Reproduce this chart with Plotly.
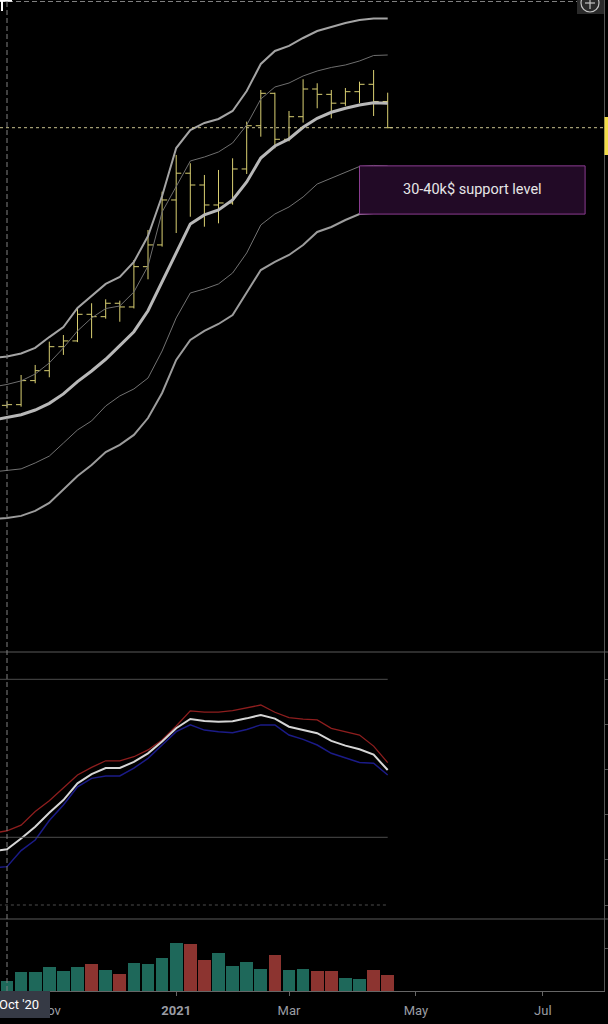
import math
import plotly.graph_objects as go

# ---------------- data (weekly bars, index 0 = week of 12 Oct 2020) ----------------
bar_idx = list(range(28))
opens = [11380, 11420, 12970, 13670, 15520, 16000, 18420, 18190, 19530, 19150,
         23700, 26590, 33730, 38860, 36510, 32850, 33200, 39740, 49960, 59310,
         46500, 52400, 60670, 58980, 56290, 59820, 62200, 56800]
highs = [11660, 13360, 14090, 15940, 16510, 19020, 19530, 19940, 19800, 24550,
         28780, 35240, 42800, 40960, 38500, 39530, 42050, 51050, 60360, 59500,
         54010, 63880, 62540, 60360, 61000, 63070, 67080, 59500]
lows = [11200, 11300, 12790, 13200, 14860, 15900, 16230, 18000, 17710, 19000,
        22170, 26350, 28320, 30870, 29280, 29810, 32900, 38700, 47140, 44350,
        46000, 50800, 54790, 51960, 55500, 56300, 52600, 49280]
closes = [11420, 12970, 13670, 15520, 16000, 18420, 18190, 19530, 19150, 23700,
          26590, 33730, 38860, 36510, 32850, 33200, 39740, 49960, 59310, 46500,
          52400, 60670, 58980, 56290, 59820, 62200, 56800, 49440]

# band / indicator series include the week before the first visible bar
band_idx = list(range(-1, 28))
band_upper_outer = [14620, 14740, 14970, 15420, 16330, 17220, 19050, 20290, 21630, 22440,
                    24300, 27880, 34450, 44400, 48840, 50690, 51780, 54010, 60030, 69260,
                    74200, 76190, 79470, 82470, 84230, 86030, 87410, 88100, 88100]
band_upper_inner = [12540, 12710, 12950, 13430, 14240, 15420, 16870, 18070, 18990, 19250,
                    20730, 23780, 31650, 36320, 41460, 42340, 43480, 45600, 50150, 57540,
                    61320, 62630, 65000, 66740, 68000, 68900, 70370, 72440, 72630]
band_middle = [10530, 10660, 10830, 11100, 11500, 12090, 12900, 13650, 14520, 15610,
               16800, 18770, 21850, 25660, 29710, 31160, 31990, 33730, 37100, 42120,
               44870, 46570, 49550, 51960, 53640, 54790, 55750, 56440, 56260]
band_lower_inner = [8000, 8060, 8130, 8390, 8700, 9320, 9990, 10480, 11340, 11960,
                    12410, 13150, 15170, 18070, 20620, 21060, 21630, 22920, 25480, 29550,
                    31320, 32500, 34270, 36700, 37880, 39120, 40270, 40490, 40380]
band_lower_outer = [6240, 6270, 6340, 6510, 6790, 7310, 7830, 8300, 8890, 9230,
                    9730, 10640, 12150, 14470, 16080, 16870, 17500, 18350, 20620, 23280,
                    24300, 25210, 26580, 28480, 29240, 30340, 31320, 31490, 31490]

osc_red = [31.8, 32.9, 35.4, 41.4, 46.2, 51.7, 57.6, 61.0, 63.9, 63.9,
           65.7, 68.7, 73.1, 79.3, 86.0, 85.5, 85.5, 86.1, 87.4, 88.6,
           85.4, 83.0, 82.4, 82.0, 78.3, 76.8, 75.3, 70.4, 63.1]
osc_white = [23.8, 24.7, 29.5, 34.7, 40.9, 46.5, 53.9, 58.0, 60.7, 60.7,
             63.4, 67.2, 72.4, 78.3, 82.4, 81.5, 81.2, 81.4, 82.7, 84.2,
             82.6, 79.0, 77.5, 76.1, 72.7, 70.6, 69.0, 66.6, 59.8]
osc_blue = [16.4, 17.0, 24.1, 28.8, 37.4, 44.3, 52.4, 56.1, 57.2, 57.2,
            60.6, 65.0, 70.9, 76.8, 79.8, 77.5, 76.8, 76.3, 77.8, 79.8,
            79.8, 75.3, 73.4, 70.9, 67.2, 65.0, 63.1, 62.8, 57.6]
osc_levels_solid = [100, 30]
osc_level_dotted = 0

volume = [103, 187, 187, 240, 197, 240, 273, 207, 170, 280,
          270, 327, 483, 473, 310, 380, 250, 290, 223, 363,
          207, 217, 197, 197, 130, 120, 207, 160]

tick_vals = [3, 12, 20, 29, 38]
tick_text = ["Nov", "<b>2021</b>", "Mar", "May", "Jul"]
crosshair_label = "Oct '20"

zone_low, zone_high = 31300, 40400
zone_start, zone_end = 25, 41
zone_text = "30-40k$ support level"

# ---------------- styling ----------------
W, H = 608, 1024
PLOT_W, PLOT_H = 604, 991
YEL = "#d9cf72"
TEAL = "#1e685a"
RED = "#8c3430"
SEP = "#5a5a5a"


def px(x):
    return x / PLOT_W


def py(y):
    return (PLOT_H - y) / PLOT_H


vol_dom = [0, py(919)]
osc_dom = [py(919), py(652)]
main_dom = [py(652), 1]

fig = go.Figure()

band_styles = [
    (band_upper_outer, "#a4a4a4", 2),
    (band_upper_inner, "#6f6f6f", 1),
    (band_lower_inner, "#727272", 1),
    (band_lower_outer, "#9c9c9c", 2),
    (band_middle, "#b8b8b8", 3),
]
for series, col, wid in band_styles:
    fig.add_trace(go.Scatter(x=band_idx, y=series, mode="lines",
                             line=dict(color=col, width=wid),
                             hoverinfo="skip", xaxis="x", yaxis="y"))

fig.add_trace(go.Ohlc(x=bar_idx, open=opens, high=highs, low=lows, close=closes,
                      increasing=dict(line=dict(color=YEL, width=1)),
                      decreasing=dict(line=dict(color=YEL, width=1)),
                      tickwidth=0.36, hoverinfo="skip", xaxis="x", yaxis="y"))

# oscillator
fig.add_trace(go.Scatter(x=band_idx, y=osc_red, mode="lines",
                         line=dict(color="#8e1e1e", width=1.3), hoverinfo="skip",
                         xaxis="x2", yaxis="y2"))
fig.add_trace(go.Scatter(x=band_idx, y=osc_blue, mode="lines",
                         line=dict(color="#1b1b88", width=1.5), hoverinfo="skip",
                         xaxis="x2", yaxis="y2"))
fig.add_trace(go.Scatter(x=band_idx, y=osc_white, mode="lines",
                         line=dict(color="#d6d6d6", width=2), hoverinfo="skip",
                         xaxis="x2", yaxis="y2"))

# volume
vol_colors = [TEAL if c >= o else RED for o, c in zip(opens, closes)]
fig.add_trace(go.Bar(x=bar_idx, y=volume, width=0.9, marker=dict(color=vol_colors, line=dict(width=0)),
                     hoverinfo="skip", xaxis="x3", yaxis="y3"))

x_range = [-7 / 14.1, (PLOT_W - 7) / 14.1]
y_main_range = [3.48934, 4.98751]

shapes = []
# oscillator levels
for lv in osc_levels_solid:
    shapes.append(dict(type="line", xref="x2", yref="y2", x0=band_idx[0], x1=bar_idx[-1],
                       y0=lv, y1=lv, line=dict(color="#4d4d4d", width=1)))
shapes.append(dict(type="line", xref="x2", yref="y2", x0=band_idx[0], x1=bar_idx[-1],
                   y0=osc_level_dotted, y1=osc_level_dotted,
                   line=dict(color="#4d4d4d", width=1, dash="dot")))
# support zone
shapes.append(dict(type="rect", xref="x", yref="y", x0=zone_start, x1=zone_end,
                   y0=zone_low, y1=zone_high, fillcolor="#220a26",
                   line=dict(color="#8a3c90", width=1), layer="above"))
# last price line
shapes.append(dict(type="line", xref="paper", yref="y", x0=0, x1=1,
                   y0=closes[-1], y1=closes[-1],
                   line=dict(color="#c9c28e", width=1, dash="dot")))
# pane separators
for yy in (652, 919):
    shapes.append(dict(type="line", xref="paper", yref="paper", x0=0, x1=px(W),
                       y0=py(yy), y1=py(yy), line=dict(color=SEP, width=1)))
# crosshair
shapes.append(dict(type="line", xref="x", yref="paper", x0=0, x1=0, y0=0, y1=1,
                   line=dict(color="#808080", width=1, dash="5px,3px")))
shapes.append(dict(type="line", xref="paper", yref="paper", x0=0, x1=1,
                   y0=py(1.5), y1=py(1.5),
                   line=dict(color="#808080", width=1, dash="5px,3px")))
# cursor glyph top-left
shapes.append(dict(type="rect", xref="paper", yref="paper", x0=px(0), x1=px(12),
                   y0=py(1.7), y1=py(0), fillcolor="#ffffff", line=dict(width=0)))
shapes.append(dict(type="rect", xref="paper", yref="paper", x0=px(1), x1=px(3),
                   y0=py(11), y1=py(0), fillcolor="#ffffff", line=dict(width=0)))
# crosshair x label box
shapes.append(dict(type="rect", xref="paper", yref="paper", x0=px(0), x1=px(50),
                   y0=py(1018), y1=py(991), fillcolor="#363a45", line=dict(width=0),
                   layer="above"))
# price label on right edge
shapes.append(dict(type="rect", xref="paper", yref="paper", x0=px(604.5), x1=px(609),
                   y0=py(155), y1=py(117), fillcolor="#f2dc4a", line=dict(width=0)))
# top-right button
shapes.append(dict(type="rect", xref="paper", yref="paper", x0=px(577), x1=px(604),
                   y0=py(14), y1=py(0), fillcolor="#2a2a2a", line=dict(width=0)))
shapes.append(dict(type="circle", xref="paper", yref="paper", x0=px(581), x1=px(599),
                   y0=py(12), y1=py(-6), line=dict(color="#c4c4c4", width=1.2)))
shapes.append(dict(type="line", xref="paper", yref="paper", x0=px(585), x1=px(595),
                   y0=py(3), y1=py(3), line=dict(color="#c4c4c4", width=1.2)))
shapes.append(dict(type="line", xref="paper", yref="paper", x0=px(590), x1=px(590),
                   y0=py(9), y1=py(-2), line=dict(color="#c4c4c4", width=1.2)))

annotations = [
    dict(x=(zone_start + zone_end) / 2, y=math.log10(math.sqrt(zone_low * zone_high)),
         xref="x", yref="y", text=zone_text, showarrow=False,
         font=dict(family="Roboto", size=14.5, color="#e6e6e6")),
    dict(x=px(-3), y=py(1005), xref="paper", yref="paper", xanchor="left", yanchor="middle",
         text=crosshair_label, showarrow=False,
         font=dict(family="Roboto", size=13, color="#ffffff")),
]

axis_common = dict(showgrid=False, zeroline=False, range=x_range, fixedrange=True)
fig.update_layout(
    width=W, height=H,
    margin=dict(l=0, r=W - PLOT_W, t=0, b=H - PLOT_H),
    paper_bgcolor="#000000", plot_bgcolor="#000000",
    showlegend=False,
    hovermode=False,
    xaxis=dict(**axis_common, domain=[0, 1], anchor="y", showticklabels=False,
               rangeslider=dict(visible=False)),
    xaxis2=dict(**axis_common, domain=[0, 1], anchor="y2", matches="x", showticklabels=False),
    xaxis3=dict(**axis_common, domain=[0, 1], anchor="y3", matches="x",
                tickmode="array", tickvals=tick_vals, ticktext=tick_text,
                ticks="outside", ticklen=4, tickcolor="#666666",
                tickfont=dict(family="Roboto", size=13, color="#9a9ca3"),
                ticklabelstandoff=3,
                showline=True, linecolor="#666666", linewidth=1),
    yaxis=dict(domain=main_dom, type="log", range=y_main_range, side="right",
               showgrid=False, zeroline=False, showticklabels=False, fixedrange=True,
               showline=True, linecolor="#555555", ticks="", anchor="x"),
    yaxis2=dict(domain=osc_dom, range=[-6.203, 112.097], side="right", fixedrange=True,
                showgrid=False, zeroline=False, showticklabels=False,
                showline=True, linecolor="#555555", ticks="outside", ticklen=4,
                tickcolor="#555555", tickvals=[0, 20, 40, 60, 80, 100], anchor="x2"),
    yaxis3=dict(domain=vol_dom, range=[0, 720], side="right", fixedrange=True,
                showgrid=False, zeroline=False, showticklabels=False,
                showline=True, linecolor="#555555", ticks="outside", ticklen=4,
                tickcolor="#555555", tickvals=[430], anchor="x3"),
    shapes=shapes,
    annotations=annotations,
    bargap=0,
)

fig.write_html("out.html",
               config={"displayModeBar": False, "staticPlot": True},
               post_script="document.body.style.margin='0';document.body.style.padding='0';"
                           "document.body.style.background='#000';")
